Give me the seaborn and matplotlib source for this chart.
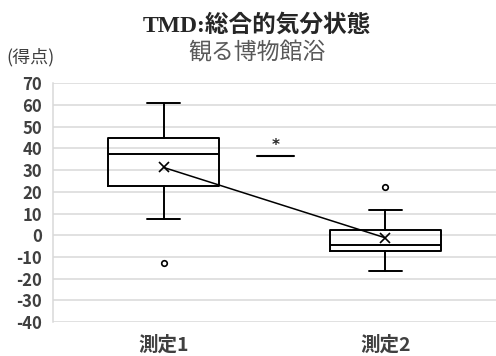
import matplotlib
matplotlib.use("Agg")
import matplotlib.pyplot as plt
import seaborn as sns

# Five-number summaries, means and outliers for the two measurements
categories = ["測定1", "測定2"]
whisker_low = [7.5, -16.5]
q1 = [22.5, -7.2]
median = [37.5, -4.3]
q3 = [45.0, 2.4]
whisker_high = [61.0, 11.5]
means = [31.2, -1.2]
outliers = [[-13.0], [22.0]]
yticks = list(range(-40, 71, 10))

title = "TMD:総合的気分状態"
subtitle = "観る博物館浴"
ylabel = "(得点)"
sig_mark = "*"
sig_level = 36.5

sns.set_theme(style="whitegrid")
plt.rcParams["font.family"] = ["Noto Sans CJK JP", "DejaVu Sans"]
plt.rcParams["axes.unicode_minus"] = False

fig = plt.figure(figsize=(4.96, 3.56), dpi=100)
ax = fig.add_axes([0.107, 0.0955, 0.893, 0.6705])

stats = [
    dict(whislo=lo, q1=a, med=m, q3=b, whishi=hi, fliers=f, label=c)
    for c, lo, a, m, b, hi, f in zip(categories, whisker_low, q1, median, q3,
                                     whisker_high, outliers)
]
line = dict(color="black", linewidth=1.4)
ax.bxp(stats, positions=range(len(categories)), widths=0.5, capwidths=0.15,
       manage_ticks=False, boxprops=line, whiskerprops=line, capprops=line,
       medianprops=line,
       flierprops=dict(marker="o", markersize=4, markerfacecolor="white",
                       markeredgecolor="black", markeredgewidth=1.2))

# Means joined by a line
sns.pointplot(x=categories, y=means, color="black", markers="x",
              markersize=7, markeredgewidth=1.2, linewidth=1.1,
              errorbar=None, ax=ax, zorder=5)

# Significance marker between the two measurements
ax.plot([0.42, 0.59], [sig_level, sig_level], color="black", linewidth=1.5)
ax.text(0.505, sig_level + 5, sig_mark, ha="center", va="center",
        fontsize=11, fontweight="bold", color="#262626",
        family=["DejaVu Sans"])

ax.set_xlim(-0.5, 1.5)
ax.set_ylim(-40, 70)
ax.set_yticks(yticks)
ax.set_xlabel("")
ax.set_ylabel("")
ax.grid(axis="x", visible=False)
ax.grid(axis="y", color="#d9d9d9", linewidth=1.1)
for side in ["top", "right", "bottom"]:
    ax.spines[side].set_visible(False)
ax.spines["left"].set_color("#d9d9d9")
ax.spines["left"].set_linewidth(1.1)
ax.tick_params(axis="y", length=0, pad=8, labelsize=12, labelcolor="#404040")
ax.tick_params(axis="x", length=0, pad=10, labelsize=14, labelcolor="#404040")
for lab in ax.get_yticklabels() + ax.get_xticklabels():
    lab.set_fontweight("bold")

fig.text(256.5 / 496, 1 - 25 / 356, title, ha="center", va="center",
         fontsize=17, fontweight="bold", color="#262626",
         family=["Liberation Serif", "Noto Sans CJK JP"])
fig.text(256.5 / 496, 1 - 53 / 356, subtitle, ha="center", va="center",
         fontsize=16.5, color="#595959")
fig.text(31 / 496, 1 - 57 / 356, ylabel, ha="center", va="center",
         fontsize=13, color="#404040")

fig.savefig("out.png", dpi=100, facecolor="white")
